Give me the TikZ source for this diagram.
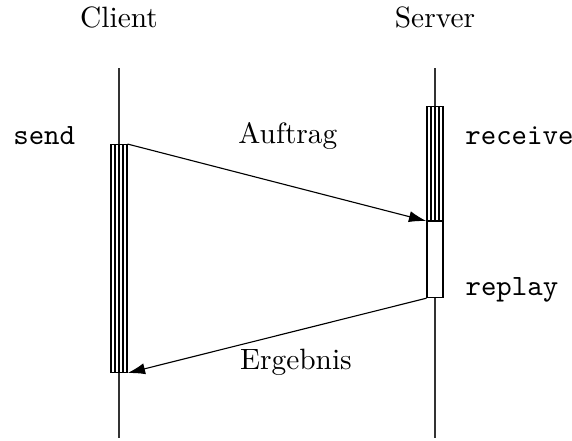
\documentclass[tikz,border=0pt]{standalone}
\usepackage{tikz}
\usetikzlibrary{arrows.meta,calc,positioning}
\tikzset{
  lifeline/.style={
    line width=.4pt,
    black!80
  },
  actbar/.style={
    draw,
    fill=white,
    minimum width=.2cm,
    inner sep=0pt,
    anchor=north,
    path picture={
      \foreach \f in {0.25,0.5,0.75}
        \draw ($(path picture bounding box.north west)!\f!(path picture bounding box.north east)$)
           -- ($(path picture bounding box.south west)!\f!(path picture bounding box.south east)$);
    }
  },
  idlebar/.style={
    draw,
    fill=white,
    minimum width=.2cm,
    inner sep=0pt,
    anchor=north
  },
  msg/.style={
    -{Latex[length=2.2mm,width=1.4mm]},
    line width=.4pt
  },
  lbl/.style={
    font=\fontsize{10.5pt}{12pt}\selectfont
  },
  call/.style={
    font=\fontsize{10.5pt}{12pt}\selectfont\ttfamily
  }
}

\begin{document}
\begin{tikzpicture}
\useasboundingbox (0,0) rectangle (7.18,5.535);
% lifelines
\node[lbl] (client) at (1.494,5.31) {Client};
\node[lbl] (server) at (5.46,5.31) {Server};
\coordinate (ctop) at (1.494,4.68);
\coordinate (cbot) at (1.494,0.038);
\coordinate (stop) at (5.46,4.68);
\coordinate (sbot) at (5.46,0.038);
\draw[lifeline] (ctop) -- (cbot);
\draw[lifeline] (stop) -- (sbot);
% activation bars
\node[actbar,minimum height=2.861cm] (cact) at (1.494,3.727) {};
\node[actbar,minimum height=1.43cm] (sact) at (5.46,4.204) {};
\node[idlebar,minimum height=.954cm,below=0pt of sact] (sreply) {};
% messages
\draw[msg] (cact.north east) -- (sact.south west);
\draw[msg] (sreply.south west) -- (cact.south east);
\node[lbl] at (3.614,3.83) (auftrag) {Auftrag};
\node[lbl] at (3.715,0.991) (ergebnis) {Ergebnis};
% operations
\node[call] at (0.555,3.83) (send) {send};
\node[call] at (6.52,3.83) (receive) {receive};
\node[call] at (6.426,1.895) (replay) {replay};
\end{tikzpicture}
\end{document}
